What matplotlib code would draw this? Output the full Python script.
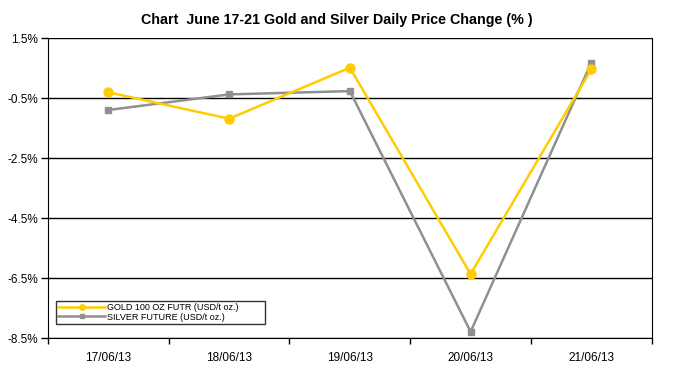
import matplotlib
matplotlib.use('Agg')
import numpy as np
from matplotlib import pyplot as plt
from matplotlib.ticker import FixedLocator

dates = ['17/06/13', '18/06/13', '19/06/13', '20/06/13', '21/06/13']
gold = [-0.31, -1.19, 0.51, -6.37, 0.46]
silver = [-0.90, -0.38, -0.27, -8.29, 0.68]
y_ticks = [1.5, -0.5, -2.5, -4.5, -6.5, -8.5]

plt.rcParams['font.family'] = ['Liberation Sans', 'DejaVu Sans']

fig = plt.figure(figsize=(6.81, 3.69), dpi=100)
ax = fig.add_axes([0.0705, 0.084, 0.8865, 0.813])

x = np.arange(len(dates))
ax.plot(x, gold, color='#FFCC00', lw=1.8, marker='o', ms=6.5,
        label='GOLD 100 OZ FUTR (USD/t oz.)', zorder=4)
ax.plot(x, silver, color='#909090', lw=1.8, marker='s', ms=5,
        label='SILVER FUTURE (USD/t oz.)', zorder=3)

ax.set_xlim(-0.5, len(dates) - 0.5)
ax.set_ylim(-8.5, 1.5)
ax.set_yticks(y_ticks)
ax.set_yticklabels(['%.1f%%' % v for v in y_ticks], fontsize=8.5)
ax.set_xticks(x)
ax.set_xticklabels(dates, fontsize=8.5)
ax.xaxis.set_minor_locator(FixedLocator(np.arange(-0.5, len(dates), 1.0)))
ax.tick_params(axis='x', which='major', length=0, pad=10)
ax.tick_params(axis='x', which='minor', length=4, direction='out', width=1)
ax.tick_params(axis='y', length=5, direction='out', width=1, pad=2)

ax.grid(axis='y', color='black', lw=1)
for s in ['left', 'bottom', 'right']:
    ax.spines[s].set_color('black')
ax.spines['top'].set_visible(False)

ax.set_title('Chart  June 17-21 Gold and Silver Daily Price Change (% )',
             fontsize=10.3, fontweight='bold', pad=10, x=0.478)

leg = ax.legend(loc='lower left', bbox_to_anchor=(0.0132, 0.047, 0.346, 0.07),
                mode='expand', fontsize=6.5, markerscale=0.6,
                frameon=True, fancybox=False, edgecolor='black',
                handlelength=5.2, handletextpad=0.2, borderpad=0.25,
                labelspacing=0.05, borderaxespad=0)
leg.get_frame().set_linewidth(1)

fig.savefig('out.png', dpi=100)
